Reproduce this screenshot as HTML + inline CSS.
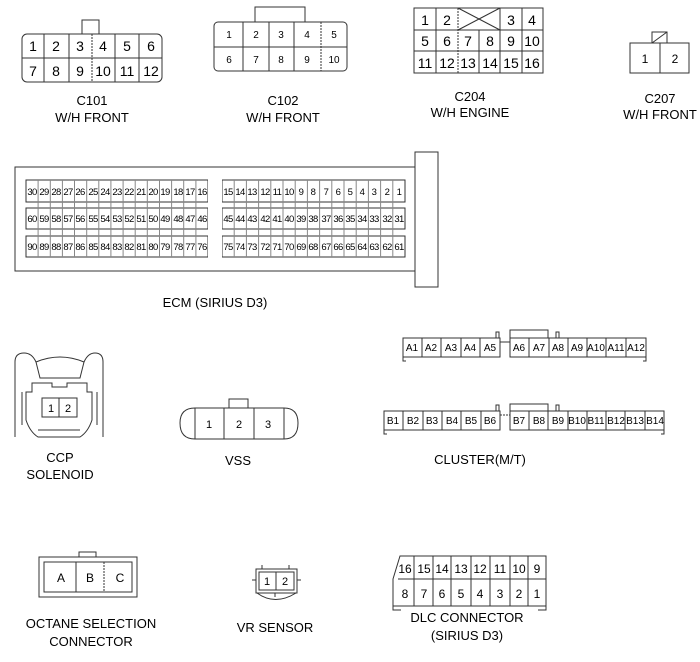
<!DOCTYPE html>
<html><head><meta charset="utf-8"><style>
html,body{margin:0;padding:0;background:#fff}
svg{display:block}
text{font-family:"Liberation Sans",sans-serif;fill:#000}
.ecm text{letter-spacing:-0.6px}
</style></head><body>
<svg width="700" height="662" viewBox="0 0 700 662" xmlns="http://www.w3.org/2000/svg" stroke="#333" fill="none" stroke-width="1">
<!-- C101 -->
<rect x="82" y="20" width="17" height="14"/>
<rect x="22" y="34" width="140" height="48" rx="5"/>
<g>
<line x1="22" y1="58" x2="162" y2="58"/>
<line x1="44" y1="34" x2="44" y2="82"/><line x1="69" y1="34" x2="69" y2="82"/><line x1="92" y1="34" x2="92" y2="82" stroke-dasharray="2,1"/><line x1="115" y1="34" x2="115" y2="82"/><line x1="139" y1="34" x2="139" y2="82"/>
</g>
<g font-size="14" text-anchor="middle" stroke="none">
<text x="33" y="51">1</text><text x="56" y="51">2</text><text x="80" y="51">3</text><text x="103" y="51">4</text><text x="127" y="51">5</text><text x="151" y="51">6</text>
<text x="33" y="76">7</text><text x="56" y="76">8</text><text x="80" y="76">9</text><text x="103" y="76">10</text><text x="127" y="76">11</text><text x="151" y="76">12</text>
<text x="92" y="105" font-size="13">C101</text><text x="92" y="122" font-size="13">W/H FRONT</text>
</g>
<!-- C102 -->
<polyline points="255,22 255,7 305,7 305,22"/>
<rect x="214" y="22" width="133" height="49" rx="4"/>
<line x1="214" y1="47" x2="347" y2="47"/>
<line x1="243" y1="22" x2="243" y2="71"/><line x1="269" y1="22" x2="269" y2="71"/><line x1="294" y1="22" x2="294" y2="71"/><line x1="321" y1="22" x2="321" y2="71" stroke-dasharray="2,1"/>
<g font-size="10" text-anchor="middle" stroke="none">
<text x="229" y="38">1</text><text x="256" y="38">2</text><text x="281" y="38">3</text><text x="307" y="38">4</text><text x="334" y="38">5</text>
<text x="229" y="63">6</text><text x="256" y="63">7</text><text x="281" y="63">8</text><text x="307" y="63">9</text><text x="334" y="63">10</text>
<text x="283" y="105" font-size="13">C102</text><text x="283" y="122" font-size="13">W/H FRONT</text>
</g>
<!-- C204 -->
<rect x="414" y="8" width="129" height="65"/>
<line x1="414" y1="30" x2="543" y2="30"/><line x1="414" y1="51" x2="543" y2="51"/>
<line x1="436" y1="8" x2="436" y2="73"/><line x1="458" y1="8" x2="458" y2="73" stroke-dasharray="2,1"/><line x1="500" y1="8" x2="500" y2="73"/><line x1="522" y1="8" x2="522" y2="73"/>
<line x1="479" y1="30" x2="479" y2="73"/>
<line x1="458" y1="8" x2="500" y2="30"/><line x1="500" y1="8" x2="458" y2="30"/>
<g font-size="14" text-anchor="middle" stroke="none">
<text x="425" y="25">1</text><text x="447" y="25">2</text><text x="511" y="25">3</text><text x="532" y="25">4</text>
<text x="425" y="46">5</text><text x="447" y="46">6</text><text x="468" y="46">7</text><text x="490" y="46">8</text><text x="511" y="46">9</text><text x="532" y="46">10</text>
<text x="425" y="68">11</text><text x="447" y="68">12</text><text x="468" y="68">13</text><text x="490" y="68">14</text><text x="511" y="68">15</text><text x="532" y="68">16</text>
<text x="470" y="101" font-size="13">C204</text><text x="470" y="117" font-size="13">W/H ENGINE</text>
</g>
<!-- C207 -->
<rect x="652" y="32" width="15" height="11"/><line x1="652" y1="43" x2="667" y2="32"/>
<rect x="630" y="43" width="59" height="30"/><line x1="660" y1="43" x2="660" y2="73"/>
<g font-size="12" text-anchor="middle" stroke="none">
<text x="645" y="63">1</text><text x="675" y="63">2</text>
<text x="660" y="103" font-size="13">C207</text><text x="660" y="119" font-size="13">W/H FRONT</text>
</g>
<!-- ECM -->
<rect x="15" y="167" width="400" height="104"/>
<rect x="415" y="152" width="23" height="135"/>
<g>
<rect x="26" y="180" width="182" height="22"/><rect x="26" y="208" width="182" height="21"/><rect x="26" y="236" width="182" height="21"/>
<rect x="222" y="180" width="183" height="22"/><rect x="222" y="208" width="183" height="21"/><rect x="222" y="236" width="183" height="21"/>
</g>
<g stroke="#888">
<path d="M38.1 180v77M50.3 180v77M62.4 180v77M74.5 180v77M86.7 180v77M98.8 180v77M110.9 180v77M123.1 180v77M135.2 180v77M147.3 180v77M159.5 180v77M171.6 180v77M183.7 180v77M195.9 180v77"/>
<path d="M234.2 180v77M246.4 180v77M258.6 180v77M270.8 180v77M283 180v77M295.2 180v77M307.4 180v77M319.6 180v77M331.8 180v77M344 180v77M356.2 180v77M368.4 180v77M380.6 180v77M392.8 180v77"/>
</g>
<rect x="208" y="178" width="14" height="82" fill="#fff" stroke="none"/>
<g class="ecm" font-size="9.5" text-anchor="middle" stroke="none">
<text x="32" y="195">30</text><text x="44" y="195">29</text><text x="56" y="195">28</text><text x="68" y="195">27</text><text x="80" y="195">26</text><text x="93" y="195">25</text><text x="105" y="195">24</text><text x="117" y="195">23</text><text x="129" y="195">22</text><text x="141" y="195">21</text><text x="153" y="195">20</text><text x="165" y="195">19</text><text x="178" y="195">18</text><text x="190" y="195">17</text><text x="202" y="195">16</text>
<text x="32" y="222">60</text><text x="44" y="222">59</text><text x="56" y="222">58</text><text x="68" y="222">57</text><text x="80" y="222">56</text><text x="93" y="222">55</text><text x="105" y="222">54</text><text x="117" y="222">53</text><text x="129" y="222">52</text><text x="141" y="222">51</text><text x="153" y="222">50</text><text x="165" y="222">49</text><text x="178" y="222">48</text><text x="190" y="222">47</text><text x="202" y="222">46</text>
<text x="32" y="250">90</text><text x="44" y="250">89</text><text x="56" y="250">88</text><text x="68" y="250">87</text><text x="80" y="250">86</text><text x="93" y="250">85</text><text x="105" y="250">84</text><text x="117" y="250">83</text><text x="129" y="250">82</text><text x="141" y="250">81</text><text x="153" y="250">80</text><text x="165" y="250">79</text><text x="178" y="250">78</text><text x="190" y="250">77</text><text x="202" y="250">76</text>
<text x="228" y="195">15</text><text x="240" y="195">14</text><text x="252" y="195">13</text><text x="265" y="195">12</text><text x="277" y="195">11</text><text x="289" y="195">10</text><text x="301" y="195">9</text><text x="313" y="195">8</text><text x="326" y="195">7</text><text x="338" y="195">6</text><text x="350" y="195">5</text><text x="362" y="195">4</text><text x="374" y="195">3</text><text x="387" y="195">2</text><text x="399" y="195">1</text>
<text x="228" y="222">45</text><text x="240" y="222">44</text><text x="252" y="222">43</text><text x="265" y="222">42</text><text x="277" y="222">41</text><text x="289" y="222">40</text><text x="301" y="222">39</text><text x="313" y="222">38</text><text x="326" y="222">37</text><text x="338" y="222">36</text><text x="350" y="222">35</text><text x="362" y="222">34</text><text x="374" y="222">33</text><text x="387" y="222">32</text><text x="399" y="222">31</text>
<text x="228" y="250">75</text><text x="240" y="250">74</text><text x="252" y="250">73</text><text x="265" y="250">72</text><text x="277" y="250">71</text><text x="289" y="250">70</text><text x="301" y="250">69</text><text x="313" y="250">68</text><text x="326" y="250">67</text><text x="338" y="250">66</text><text x="350" y="250">65</text><text x="362" y="250">64</text><text x="374" y="250">63</text><text x="387" y="250">62</text><text x="399" y="250">61</text>
</g>
<text x="215" y="307" font-size="13" text-anchor="middle" stroke="none">ECM (SIRIUS D3)</text>
<!-- CCP -->
<path d="M15 437 V362 Q15 353 24 353 Q32 353 36 362 L40 378 H80 L84 362 Q88 353 95 353 Q103 353 103 362 V437"/>
<path d="M36 362 Q60 352 84 362"/>
<path d="M32 392 V383 H52 V387 H67 V383 H87 V392 H92 V420 Q88 432 80 437 H38 Q30 432 26 420 V392 Z"/>
<path d="M22 392 V425 M97 392 V425"/>
<line x1="38" y1="430" x2="80" y2="430"/>
<rect x="42" y="398" width="35" height="19"/><line x1="59" y1="398" x2="59" y2="417"/>
<g font-size="11" text-anchor="middle" stroke="none">
<text x="51" y="412">1</text><text x="68" y="412">2</text>
<text x="60" y="462" font-size="13">CCP</text><text x="60" y="479" font-size="13">SOLENOID</text>
</g>
<!-- VSS -->
<rect x="229" y="399" width="19" height="9"/>
<path d="M195 408 H284 Q298 408 298 423 Q298 439 284 439 H195 Q180 439 180 423 Q180 408 195 408 Z"/>
<line x1="195" y1="408" x2="195" y2="439"/><line x1="224" y1="408" x2="224" y2="439"/><line x1="254" y1="408" x2="254" y2="439"/><line x1="284" y1="408" x2="284" y2="439"/>
<g font-size="11" text-anchor="middle" stroke="none">
<text x="209" y="428">1</text><text x="239" y="428">2</text><text x="268" y="428">3</text>
<text x="238" y="465" font-size="13">VSS</text>
</g>
<!-- Cluster A -->
<rect x="403" y="338" width="97" height="19"/><rect x="510" y="338" width="136" height="19"/>
<polyline points="510,338 510,330 548,330 548,338"/><rect x="496" y="332" width="3" height="6"/><rect x="556" y="332" width="3" height="6"/>
<line x1="500" y1="342" x2="510" y2="342"/>
<path d="M422 338v19M441 338v19M461 338v19M480 338v19M529 338v19M549 338v19M568 338v19M587 338v19M606 338v19M626 338v19"/>
<path d="M403 357v4h3M646 357v4h-3"/>
<g font-size="10" text-anchor="middle" stroke="none">
<text x="412" y="351">A1</text><text x="431" y="351">A2</text><text x="451" y="351">A3</text><text x="470" y="351">A4</text><text x="490" y="351">A5</text>
<text x="519" y="351">A6</text><text x="539" y="351">A7</text><text x="558" y="351">A8</text><text x="577" y="351">A9</text><text x="596" y="351">A10</text><text x="616" y="351">A11</text><text x="636" y="351">A12</text>
</g>
<!-- Cluster B -->
<rect x="384" y="411" width="116" height="19"/><rect x="510" y="411" width="154" height="19"/>
<polyline points="510,411 510,404 548,404 548,411"/><rect x="496" y="405" width="3" height="6"/><rect x="556" y="405" width="3" height="6"/>
<line x1="500" y1="415" x2="510" y2="415" stroke-dasharray="2,1"/>
<path d="M403 411v19M423 411v19M442 411v19M461 411v19M481 411v19M529 411v19M548 411v19M568 411v19M587 411v19M606 411v19M625 411v19M645 411v19"/>
<path d="M384 430v4h3M664 430v4h-3"/>
<g font-size="10" text-anchor="middle" stroke="none">
<text x="393" y="424">B1</text><text x="413" y="424">B2</text><text x="432" y="424">B3</text><text x="452" y="424">B4</text><text x="471" y="424">B5</text><text x="490" y="424">B6</text>
<text x="519" y="424">B7</text><text x="539" y="424">B8</text><text x="558" y="424">B9</text><text x="577" y="424">B10</text><text x="596" y="424">B11</text><text x="616" y="424">B12</text><text x="635" y="424">B13</text><text x="655" y="424">B14</text>
<text x="480" y="464" font-size="13">CLUSTER(M/T)</text>
</g>
<!-- Octane -->
<polyline points="79,557 79,552 96,552 96,557"/>
<rect x="39" y="557" width="98" height="40"/>
<rect x="44" y="562" width="88" height="30"/>
<line x1="76" y1="562" x2="76" y2="592"/><line x1="104" y1="562" x2="104" y2="592" stroke-dasharray="2,1"/>
<g font-size="12" text-anchor="middle" stroke="none">
<text x="61" y="582">A</text><text x="90" y="582">B</text><text x="120" y="582">C</text>
<text x="91" y="628" font-size="13">OCTANE SELECTION</text><text x="91" y="646" font-size="13">CONNECTOR</text>
</g>
<!-- VR sensor -->
<rect x="259" y="572" width="35" height="18"/><line x1="276" y1="572" x2="276" y2="590"/>
<path d="M256 569 H297 V593 H256 Z"/>
<path d="M262 569v-4M289 569v-4M256 580h-4M297 580h4M275 593v4"/>
<path d="M257 593 Q275 606 296 593"/>
<g font-size="11" text-anchor="middle" stroke="none">
<text x="267" y="585">1</text><text x="285" y="585">2</text>
<text x="275" y="632" font-size="13">VR SENSOR</text>
</g>
<!-- DLC -->
<path d="M393 579 L400 556 H546 V606 H393 Z"/>
<line x1="398" y1="579" x2="546" y2="579"/>
<path d="M414 556v50M433 556v50M451 556v50M471 556v50M490 556v50M510 556v50M528 556v50"/>
<path d="M393 606v4h8M546 606v4h-8"/>
<g font-size="12" text-anchor="middle" stroke="none">
<text x="405" y="573">16</text><text x="424" y="573">15</text><text x="442" y="573">14</text><text x="461" y="573">13</text><text x="480" y="573">12</text><text x="500" y="573">11</text><text x="519" y="573">10</text><text x="537" y="573">9</text>
<text x="405" y="598">8</text><text x="424" y="598">7</text><text x="442" y="598">6</text><text x="461" y="598">5</text><text x="480" y="598">4</text><text x="500" y="598">3</text><text x="519" y="598">2</text><text x="537" y="598">1</text>
<text x="467" y="622" font-size="13">DLC CONNECTOR</text><text x="467" y="640" font-size="13">(SIRIUS D3)</text>
</g>
</svg>
</body></html>
